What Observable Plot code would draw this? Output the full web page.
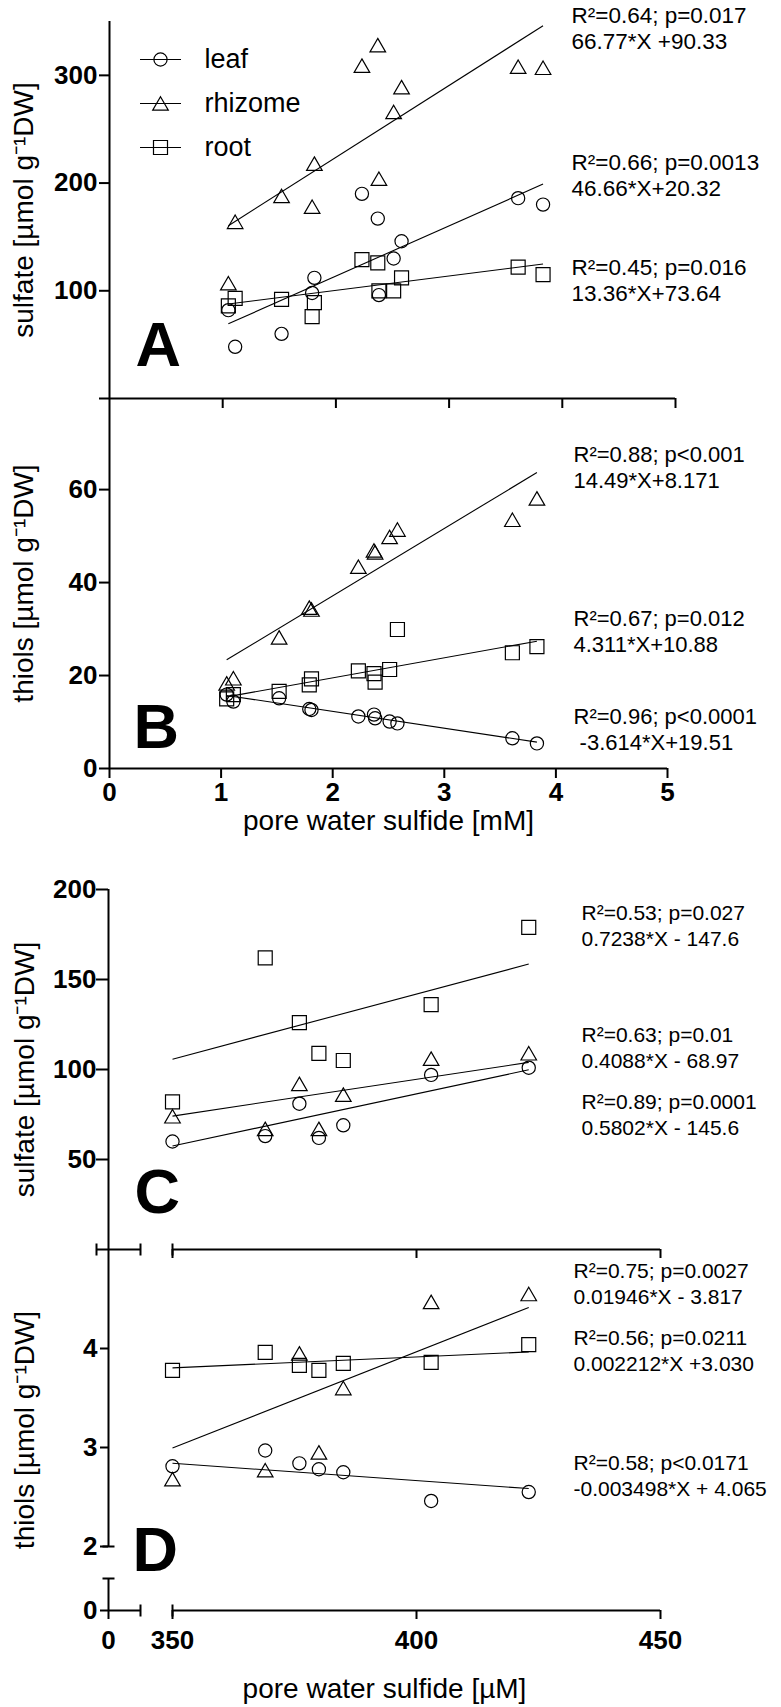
<!DOCTYPE html>
<html><head><meta charset="utf-8">
<script src="https://cdn.jsdelivr.net/npm/d3@7"></script>
<script src="https://cdn.jsdelivr.net/npm/@observablehq/plot@0.6"></script>
<style>
body{margin:0;background:#fff;}
#chart{position:relative;width:781px;height:1707px;background:#fff;overflow:hidden;}
#chart svg{position:absolute;left:0;}
</style></head><body><div id="chart"></div>
<script>
// ---------------- data ----------------
const organs = ["leaf", "rhizome", "root"];

// Panels A/B: x = pore water sulfide [mM]
const sulfideMM = [1.05, 1.11, 1.52, 1.79, 1.81, 2.23, 2.37, 2.38, 2.51, 2.58, 3.61, 3.83];
const sulfateA_leaf    = [82, 48, 60, 98, 112, 190, 167, 96, 130, 146, 186, 180];
const sulfateA_rhizome = [107, 164, 188, 178, 218, 309, 328, 204, 266, 289, 308, 307];
const sulfateA_root    = [86, 93, 92, 76, 89, 129, 126, 100, 100, 112, 122, 115];
const thiolsB_leaf     = [15.9, 14.4, 15.1, 12.8, 12.6, 11.2, 11.6, 10.8, 10.1, 9.7, 6.5, 5.4];
const thiolsB_rhizome  = [18.3, 19.4, 28.2, 34.6, 34.2, 43.4, 46.9, 46.5, 49.8, 51.4, 53.5, 58.1];
const thiolsB_root     = [15.0, 15.9, 16.6, 18.0, 19.3, 21.0, 20.4, 18.6, 21.3, 29.9, 24.9, 26.2];

// Panels C/D: x = pore water sulfide [µM]
const sulfideUM = [350, 369, 376, 380, 385, 403, 423];
const sulfateC_leaf    = [60, 63, 81, 62, 69, 97, 101];
const sulfateC_rhizome = [74, 67, 92, 67, 86, 106, 109];
const sulfateC_root    = [82, 162, 126, 109, 105, 136, 179];
const thiolsD_leaf     = [2.81, 2.97, 2.84, 2.78, 2.75, 2.46, 2.55];
const thiolsD_rhizome  = [2.68, 2.77, 3.95, 2.95, 3.60, 4.47, 4.55];
const thiolsD_root     = [3.78, 3.96, 3.83, 3.78, 3.85, 3.86, 4.04];

// linear fits (order: leaf, rhizome, root)
const slopeA = [46.66, 66.77, 13.36],      interceptA = [20.32, 90.33, 73.64];
const slopeB = [-3.614, 14.49, 4.311],     interceptB = [19.51, 8.171, 10.88];
const slopeC = [0.5802, 0.4088, 0.7238],   interceptC = [-145.6, -68.97, -147.6];
const slopeD = [-0.003498, 0.01946, 0.002212], interceptD = [4.065, -3.817, 3.030];

const statsA = ["R²=0.66; p=0.0013", "R²=0.64; p=0.017", "R²=0.45; p=0.016"];
const eqA    = ["46.66*X+20.32", "66.77*X +90.33", "13.36*X+73.64"];
const statsB = ["R²=0.96; p<0.0001", "R²=0.88; p<0.001", "R²=0.67; p=0.012"];
const eqB    = ["\u00a0-3.614*X+19.51", "14.49*X+8.171", "4.311*X+10.88"];
const statsC = ["R²=0.89; p=0.0001", "R²=0.63; p=0.01", "R²=0.53; p=0.027"];
const eqC    = ["0.5802*X - 145.6", "0.4088*X - 68.97", "0.7238*X - 147.6"];
const statsD = ["R²=0.58; p<0.0171", "R²=0.75; p=0.0027", "R²=0.56; p=0.0211"];
const eqD    = ["-0.003498*X + 4.065", "0.01946*X - 3.817", "0.002212*X +3.030"];

const ticksA_y = [0, 100, 200, 300];
const labelsA_y = [100, 200, 300];
const ticksB_y = [0, 20, 40, 60];
const ticksC_y = [0, 50, 100, 150, 200];
const labelsC_y = [50, 100, 150, 200];
const ticksD_y = [0, 2, 3, 4];
const ticksMM  = [0, 1, 2, 3, 4, 5];
const ticksUM  = [0, 350, 400, 450];

const titleSulfate = "sulfate [µmol g⁻¹DW]";
const titleThiols  = "thiols [µmol g⁻¹DW]";
const titleXmM = "pore water sulfide [mM]";
const titleXuM = "pore water sulfide [µM]";

// ---------------- styles / symbols ----------------
const FONT = "'Liberation Sans', Arial, Helvetica, sans-serif";
const TICKFONT = 26;
const shapes = {
  leaf:    {draw(c){ c.moveTo(6.6, 0); c.arc(0, 0, 6.6, 0, 2 * Math.PI); }},
  rhizome: {draw(c){ c.moveTo(0, -6.8); c.lineTo(7.8, 6.7); c.lineTo(-7.8, 6.7); c.closePath(); }},
  root:    {draw(c){ c.rect(-7, -7, 14, 14); }}
};
const legendSym = s => ({draw(c){ c.moveTo(-20.5, 0); c.lineTo(20.5, 0); s.draw(c); }});
const capV = {draw(c){ c.moveTo(0, -6); c.lineTo(0, 6); }};
const capH = {draw(c){ c.moveTo(-6, 0); c.lineTo(6, 0); }};
const AX = 2; // axis stroke width
const noText = () => "";

function yTickLabels(values, dx) {
  return Plot.text(values, {y: d => d, text: d => String(d), frameAnchor: "left", dx, textAnchor: "end",
    lineAnchor: "middle", fontSize: TICKFONT, fontWeight: "bold", fill: "black"});
}
function xTickLabels(values, dy) {
  return Plot.text(values, {x: d => d, text: d => String(d), frameAnchor: "bottom", dy, textAnchor: "middle",
    lineAnchor: "top", fontSize: TICKFONT, fontWeight: "bold", fill: "black"});
}

function seriesMarks(xs, ys, slopes, intercepts) {
  const out = [];
  organs.forEach((o, i) => {
    const pts = xs.map((x, j) => ({x, y: ys[i][j]}));
    const x1 = d3.min(xs), x2 = d3.max(xs);
    out.push(Plot.link([{x1, x2, y1: slopes[i] * x1 + intercepts[i], y2: slopes[i] * x2 + intercepts[i]}],
      {x1: "x1", y1: "y1", x2: "x2", y2: "y2", stroke: "black", strokeWidth: 1.1}));
    out.push(Plot.dot(pts, {x: "x", y: "y", symbol: shapes[o], stroke: "black", fill: "none", strokeWidth: 1.2}));
  });
  return out;
}

function notes(P, stats, eqs, places, fontSize) {
  return stats.map((s, i) => Plot.text([s + "\n" + eqs[i]], {
    text: d => d, frameAnchor: "top-left",
    dx: places[i][0] - P.ml, dy: places[i][1] - (P.T + P.mt),
    textAnchor: "start", lineAnchor: "bottom", lineHeight: 26 / fontSize,
    fontSize, fontWeight: "normal", fill: "black"
  }));
}
function letter(ch, dx, dy) {
  return Plot.text([ch], {text: d => d, frameAnchor: "bottom-left", dx, dy, textAnchor: "start",
    lineAnchor: "bottom", fontSize: 63, fontWeight: "bold", fill: "black"});
}
function yTitle(t, dx) {
  return Plot.text([t], {text: d => d, frameAnchor: "left", dx, rotate: -90, textAnchor: "middle",
    lineAnchor: "bottom", fontSize: 28, fontWeight: "normal", fill: "black"});
}
function xTitle(t, dy) {
  return Plot.text([t], {text: d => d, frameAnchor: "bottom", dy, textAnchor: "middle",
    lineAnchor: "bottom", fontSize: 28, fontWeight: "normal", fill: "black"});
}

function make(P, opts) {
  const svg = Plot.plot({
    width: 781, height: P.H,
    marginTop: P.mt, marginBottom: P.mb, marginLeft: P.ml, marginRight: P.mr,
    style: {fontFamily: FONT, fontSize: "26px", color: "black", background: "transparent", overflow: "visible"},
    ...opts
  });
  svg.style.top = P.T + "px";
  document.getElementById("chart").appendChild(svg);
}

// ---------------- Panel A ----------------
const PA = {T: 0, H: 420, mt: 21, mb: 22, ml: 109, mr: 106};
make(PA, {
  x: {domain: [0, 5]},
  y: {domain: [0, 350]},
  marks: [
    Plot.ruleX([0], {y1: 0, y2: 350, strokeWidth: AX}),
    Plot.ruleY([0], {x1: 0, x2: 5, strokeWidth: AX}),
    Plot.axisY({ticks: ticksA_y, tickFormat: noText, tickSize: 10, label: null, strokeWidth: AX}),
    yTickLabels(labelsA_y, -12),
    Plot.axisX({ticks: ticksMM.slice(1), tickFormat: noText, tickSize: 10, label: null, strokeWidth: AX}),
    ...seriesMarks(sulfideMM, [sulfateA_leaf, sulfateA_rhizome, sulfateA_root], slopeA, interceptA),
    ...organs.map((o, i) => Plot.dot([o], {frameAnchor: "top-left", dx: 51, dy: 38 + 44 * i, symbol: legendSym(shapes[o]), stroke: "black", fill: "none", strokeWidth: 1.2})),
    ...organs.map((o, i) => Plot.text([o], {text: d => d, frameAnchor: "top-left", dx: 95, dy: 38 + 44 * i, textAnchor: "start", lineAnchor: "middle", fontSize: 27, fontWeight: "normal", fill: "black"})),
    letter("A", 26, -33),
    yTitle(titleSulfate, -77),
    ...notes(PA, statsA, eqA, [[571, 195], [571, 48], [571, 300]], 22.5)
  ]
});

// ---------------- Panel B ----------------
const PB = {T: 380, H: 460, mt: 18, mb: 72, ml: 109, mr: 114};
make(PB, {
  x: {domain: [0, 5]},
  y: {domain: [0, 79.6]},
  marks: [
    Plot.ruleX([0], {y1: 0, y2: 79.6, strokeWidth: AX}),
    Plot.ruleY([0], {x1: 0, x2: 5, strokeWidth: AX}),
    Plot.axisY({ticks: ticksB_y, tickFormat: noText, tickSize: 10, label: null, strokeWidth: AX}),
    yTickLabels(ticksB_y, -12),
    Plot.axisX({ticks: ticksMM, tickFormat: noText, tickSize: 10, label: null, strokeWidth: AX}),
    xTickLabels(ticksMM, 14),
    ...seriesMarks(sulfideMM, [thiolsB_leaf, thiolsB_rhizome, thiolsB_root], slopeB, interceptB),
    letter("B", 24, -21),
    yTitle(titleThiols, -77),
    xTitle(titleXmM, 61),
    ...notes(PB, statsB, eqB, [[573, 749], [573, 487], [573, 651]], 22)
  ]
});

// ---------------- Panel C ----------------
const PC = {T: 860, H: 410, mt: 29, mb: 21, ml: 108, mr: 121};
make(PC, {
  x: {type: "linear", domain: [0, 6.4, 350, 450], range: [108, 140, 172, 660]},
  y: {domain: [0, 200]},
  marks: [
    Plot.ruleX([0], {y1: 0, y2: 200, strokeWidth: AX}),
    Plot.ruleY([0], {x1: 0, x2: 6.4, strokeWidth: AX}),
    Plot.ruleY([0], {x1: 350, x2: 450, strokeWidth: AX}),
    Plot.axisY({ticks: ticksC_y, tickFormat: noText, tickSize: 12, label: null, strokeWidth: AX}),
    yTickLabels(labelsC_y, -12),
    Plot.axisX({ticks: ticksUM.slice(1), tickFormat: noText, tickSize: 9, label: null, strokeWidth: AX}),
    Plot.dot([6.4, 350], {x: d => d, y: () => 0, symbol: capV, stroke: "black", strokeWidth: AX}),
    Plot.dot([0], {x: d => d, y: () => 0, dx: -12, symbol: capV, stroke: "black", strokeWidth: AX}),
    ...seriesMarks(sulfideUM, [sulfateC_leaf, sulfateC_rhizome, sulfateC_root], slopeC, interceptC),
    letter("C", 26, -37),
    yTitle(titleSulfate, -75),
    ...notes(PC, statsC, eqC, [[581, 1134], [581, 1067], [581, 945]], 21)
  ]
});

// ---------------- Panel D ----------------
const PD = {T: 1230, H: 477, mt: 19, mb: 97, ml: 108, mr: 121};
make(PD, {
  x: {type: "linear", domain: [0, 6.4, 350, 450], range: [108, 140, 172, 660]},
  y: {type: "linear", domain: [0, 0.32, 2, 5], range: [380, 348, 316, 19]},
  marks: [
    Plot.ruleX([0], {y1: 2, y2: 5, strokeWidth: AX}),
    Plot.ruleX([0], {y1: 0, y2: 0.32, strokeWidth: AX}),
    Plot.dot([0.32, 2], {x: () => 0, y: d => d, symbol: capH, stroke: "black", strokeWidth: AX}),
    Plot.ruleY([0], {x1: 0, x2: 6.4, strokeWidth: AX}),
    Plot.ruleY([0], {x1: 350, x2: 450, strokeWidth: AX}),
    Plot.dot([6.4, 350], {x: d => d, y: () => 0, symbol: capV, stroke: "black", strokeWidth: AX}),
    Plot.axisY({ticks: ticksD_y, tickFormat: noText, tickSize: 8, label: null, strokeWidth: AX}),
    yTickLabels(ticksD_y, -11),
    Plot.axisX({ticks: ticksUM, tickFormat: noText, tickSize: 9, label: null, strokeWidth: AX}),
    xTickLabels(ticksUM, 20),
    ...seriesMarks(sulfideUM, [thiolsD_leaf, thiolsD_rhizome, thiolsD_root], slopeD, interceptD),
    letter("D", 24, -40),
    yTitle(titleThiols, -75),
    xTitle(titleXuM, 87),
    ...notes(PD, statsD, eqD, [[573, 1495], [573, 1303], [573, 1370]], 21)
  ]
});
</script></body></html>
